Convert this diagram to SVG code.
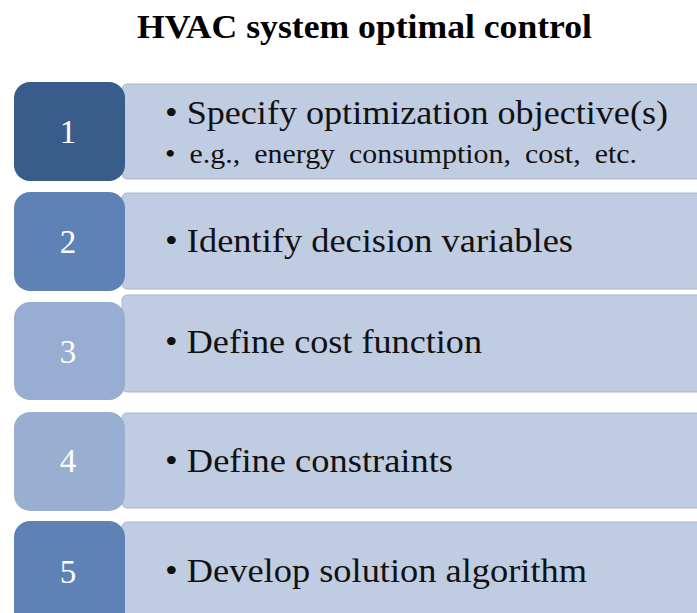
<svg xmlns="http://www.w3.org/2000/svg" width="697" height="613" viewBox="0 0 697 613">
  <style>
    .title { font-family: "Liberation Serif", "Times New Roman", serif; font-weight: bold; font-size: 34px; fill: #000; }
    .num { font-family: "Liberation Serif", "Times New Roman", serif; font-size: 33px; fill: #ffffff; text-anchor: middle; }
    .item { font-family: "Liberation Serif", "Times New Roman", serif; font-size: 34px; fill: #111; }
    .sub { font-family: "Liberation Serif", "Times New Roman", serif; font-size: 27px; word-spacing: 6px; fill: #111; }
    .panel { fill: #c0cce1; stroke: #a9b7cf; stroke-width: 1; }
    .badge { stroke: none; }
  </style>
  <rect width="697" height="613" fill="#ffffff"/>
  <text class="title" x="137" y="38" textLength="455" lengthAdjust="spacingAndGlyphs">HVAC system optimal control</text>

  <g id="step1">
    <rect class="panel" x="122" y="84" width="580" height="95" rx="5"/>
    <rect class="badge" x="14" y="82" width="111" height="99" rx="16" fill="#385d8a"/>
    <text class="num" x="68" y="143">1</text>
    <text class="item" x="165" y="124" textLength="503" lengthAdjust="spacingAndGlyphs">• Specify optimization objective(s)</text>
    <text class="sub" x="165" y="163" textLength="472" lengthAdjust="spacingAndGlyphs">• e.g., energy consumption, cost, etc.</text>
  </g>

  <g id="step2">
    <rect class="panel" x="122" y="193" width="580" height="96" rx="5"/>
    <rect class="badge" x="14" y="192" width="111" height="99" rx="16" fill="#5f82b6"/>
    <text class="num" x="68" y="253">2</text>
    <text class="item" x="165" y="252" textLength="408" lengthAdjust="spacingAndGlyphs">• Identify decision variables</text>
  </g>

  <g id="step3">
    <rect class="panel" x="122" y="295" width="580" height="97" rx="5"/>
    <rect class="badge" x="14" y="302" width="111" height="98" rx="16" fill="#97add1"/>
    <text class="num" x="68" y="363">3</text>
    <text class="item" x="165" y="353" textLength="317" lengthAdjust="spacingAndGlyphs">• Define cost function</text>
  </g>

  <g id="step4">
    <rect class="panel" x="122" y="413" width="580" height="95" rx="5"/>
    <rect class="badge" x="14" y="412" width="111" height="99" rx="16" fill="#99afd2"/>
    <text class="num" x="68" y="472">4</text>
    <text class="item" x="165" y="472" textLength="288" lengthAdjust="spacingAndGlyphs">• Define constraints</text>
  </g>

  <g id="step5">
    <rect class="panel" x="122" y="522" width="580" height="100" rx="5"/>
    <rect class="badge" x="14" y="521" width="111" height="110" rx="16" fill="#5f82b6"/>
    <text class="num" x="68" y="583">5</text>
    <text class="item" x="165" y="582" textLength="422" lengthAdjust="spacingAndGlyphs">• Develop solution algorithm</text>
  </g>

  <g id="connectors"/>
</svg>
